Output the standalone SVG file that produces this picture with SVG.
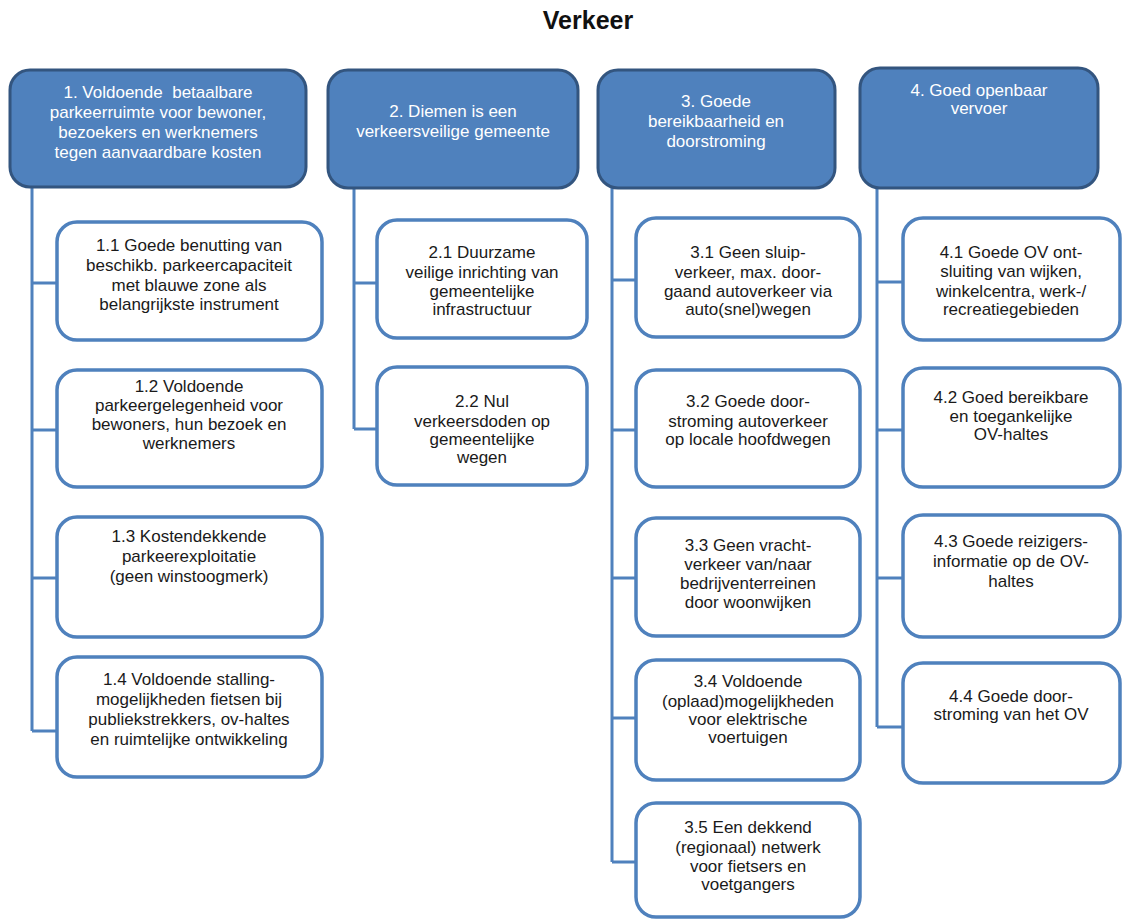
<svg xmlns="http://www.w3.org/2000/svg" width="1123" height="919" viewBox="0 0 1123 919">
<style>
.hdr{fill:#4F81BD;stroke:#33557F;stroke-width:3}
.box{fill:#ffffff;stroke:#4F81BD;stroke-width:3.5}
.conn{fill:none;stroke:#4F81BD;stroke-width:3}
text{font-family:"Liberation Sans",Arial,sans-serif;text-anchor:middle}
.ht{fill:#ffffff;font-size:17px}
.bt{fill:#1a1a1a;font-size:17px}
.title{font-size:25px;font-weight:bold;fill:#111}
</style>
<rect width="1123" height="919" fill="#ffffff"/>
<text class="title" x="588" y="29">Verkeer</text>

<g id="connectors">
<path class="conn" d="M32,187 V731 M32,283 H57 M32,430 H57 M32,578 H57 M32,731 H57"/>
<path class="conn" d="M354,188 V429 M354,283 H377 M354,429 H377"/>
<path class="conn" d="M612,188 V862 M612,280 H636 M612,430 H636 M612,578 H636 M612,718 H636 M612,862 H636"/>
<path class="conn" d="M877,188 V727 M877,282 H903 M877,430 H903 M877,578 H903 M877,727 H903"/>
</g>

<g id="h1">
<rect class="hdr" x="10" y="70" width="296" height="117" rx="20"/>
<text class="ht" style="white-space:pre"><tspan x="158" y="98">1. Voldoende  betaalbare</tspan><tspan x="158" y="118">parkeerruimte voor bewoner,</tspan><tspan x="158" y="138">bezoekers en werknemers</tspan><tspan x="158" y="158">tegen aanvaardbare kosten</tspan></text>
</g>
<g id="h2">
<rect class="hdr" x="328" y="70" width="250" height="118" rx="20"/>
<text class="ht"><tspan x="453" y="117">2. Diemen is een</tspan><tspan x="453" y="137">verkeersveilige gemeente</tspan></text>
</g>
<g id="h3">
<rect class="hdr" x="598" y="70" width="237" height="118" rx="20"/>
<text class="ht"><tspan x="716" y="107">3. Goede</tspan><tspan x="716" y="127">bereikbaarheid en</tspan><tspan x="716" y="147">doorstroming</tspan></text>
</g>
<g id="h4">
<rect class="hdr" x="860" y="68" width="238" height="120" rx="20"/>
<text class="ht"><tspan x="979" y="96">4. Goed openbaar</tspan><tspan x="979" y="114">vervoer</tspan></text>
</g>

<g id="n1_1">
<rect class="box" x="57" y="222" width="265" height="118" rx="20"/>
<text class="bt"><tspan x="189" y="251">1.1 Goede benutting van</tspan><tspan x="189" y="271">beschikb. parkeercapaciteit</tspan><tspan x="189" y="291">met blauwe zone als</tspan><tspan x="189" y="310">belangrijkste instrument</tspan></text>
</g>
<g id="n1_2">
<rect class="box" x="57" y="370" width="265" height="117" rx="20"/>
<text class="bt"><tspan x="189" y="392">1.2 Voldoende</tspan><tspan x="189" y="411">parkeergelegenheid voor</tspan><tspan x="189" y="430">bewoners, hun bezoek en</tspan><tspan x="189" y="449">werknemers</tspan></text>
</g>
<g id="n1_3">
<rect class="box" x="57" y="517" width="265" height="120" rx="20"/>
<text class="bt"><tspan x="189" y="542">1.3 Kostendekkende</tspan><tspan x="189" y="562">parkeerexploitatie</tspan><tspan x="189" y="582">(geen winstoogmerk)</tspan></text>
</g>
<g id="n1_4">
<rect class="box" x="57" y="657" width="265" height="120" rx="20"/>
<text class="bt"><tspan x="189" y="685">1.4 Voldoende stalling-</tspan><tspan x="189" y="705">mogelijkheden fietsen bij</tspan><tspan x="189" y="725">publiekstrekkers, ov-haltes</tspan><tspan x="189" y="745">en ruimtelijke ontwikkeling</tspan></text>
</g>

<g id="n2_1">
<rect class="box" x="377" y="220" width="210" height="118" rx="20"/>
<text class="bt"><tspan x="482" y="258">2.1 Duurzame</tspan><tspan x="482" y="278">veilige inrichting van</tspan><tspan x="482" y="297">gemeentelijke</tspan><tspan x="482" y="315">infrastructuur</tspan></text>
</g>
<g id="n2_2">
<rect class="box" x="377" y="367" width="210" height="118" rx="20"/>
<text class="bt"><tspan x="482" y="407">2.2 Nul</tspan><tspan x="482" y="427">verkeersdoden op</tspan><tspan x="482" y="445">gemeentelijke</tspan><tspan x="482" y="463">wegen</tspan></text>
</g>

<g id="n3_1">
<rect class="box" x="636" y="218" width="224" height="119" rx="20"/>
<text class="bt"><tspan x="748" y="258">3.1 Geen sluip-</tspan><tspan x="748" y="278">verkeer, max. door-</tspan><tspan x="748" y="297">gaand autoverkeer via</tspan><tspan x="748" y="315">auto(snel)wegen</tspan></text>
</g>
<g id="n3_2">
<rect class="box" x="636" y="370" width="224" height="117" rx="20"/>
<text class="bt"><tspan x="748" y="407">3.2 Goede door-</tspan><tspan x="748" y="427">stroming autoverkeer</tspan><tspan x="748" y="445">op locale hoofdwegen</tspan></text>
</g>
<g id="n3_3">
<rect class="box" x="636" y="518" width="224" height="118" rx="20"/>
<text class="bt"><tspan x="748" y="551">3.3 Geen vracht-</tspan><tspan x="748" y="570">verkeer van/naar</tspan><tspan x="748" y="589">bedrijventerreinen</tspan><tspan x="748" y="608">door woonwijken</tspan></text>
</g>
<g id="n3_4">
<rect class="box" x="636" y="660" width="224" height="120" rx="20"/>
<text class="bt"><tspan x="748" y="687">3.4 Voldoende</tspan><tspan x="748" y="707">(oplaad)mogelijkheden</tspan><tspan x="748" y="725">voor elektrische</tspan><tspan x="748" y="743">voertuigen</tspan></text>
</g>
<g id="n3_5">
<rect class="box" x="636" y="803" width="224" height="114" rx="20"/>
<text class="bt"><tspan x="748" y="833">3.5 Een dekkend</tspan><tspan x="748" y="853">(regionaal) netwerk</tspan><tspan x="748" y="872">voor fietsers en</tspan><tspan x="748" y="890">voetgangers</tspan></text>
</g>

<g id="n4_1">
<rect class="box" x="903" y="218" width="217" height="122" rx="20"/>
<text class="bt"><tspan x="1011" y="258">4.1 Goede OV ont-</tspan><tspan x="1011" y="277">sluiting van wijken,</tspan><tspan x="1011" y="297">winkelcentra, werk-/</tspan><tspan x="1011" y="315">recreatiegebieden</tspan></text>
</g>
<g id="n4_2">
<rect class="box" x="903" y="368" width="217" height="119" rx="20"/>
<text class="bt"><tspan x="1011" y="403">4.2 Goed bereikbare</tspan><tspan x="1011" y="422">en toegankelijke</tspan><tspan x="1011" y="440">OV-haltes</tspan></text>
</g>
<g id="n4_3">
<rect class="box" x="903" y="515" width="217" height="122" rx="20"/>
<text class="bt"><tspan x="1011" y="547">4.3 Goede reizigers-</tspan><tspan x="1011" y="567">informatie op de OV-</tspan><tspan x="1011" y="587">haltes</tspan></text>
</g>
<g id="n4_4">
<rect class="box" x="903" y="663" width="217" height="120" rx="20"/>
<text class="bt"><tspan x="1011" y="702">4.4 Goede door-</tspan><tspan x="1011" y="720">stroming van het OV</tspan></text>
</g>
</svg>
